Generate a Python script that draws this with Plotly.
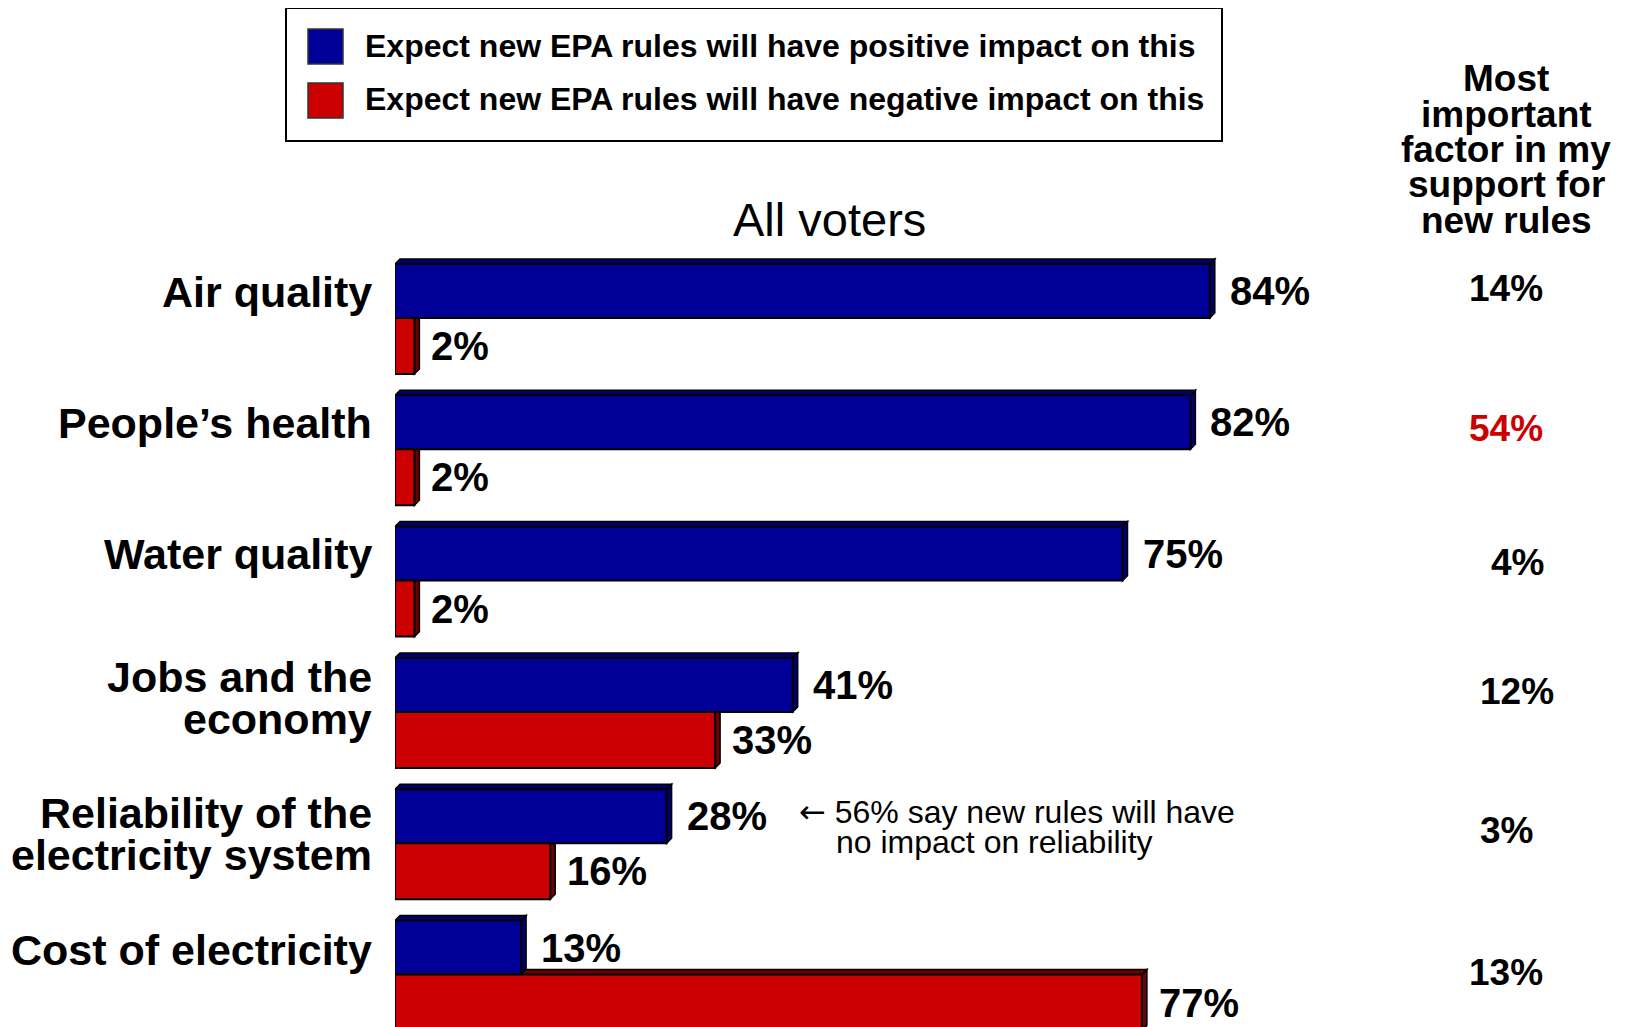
import plotly.graph_objects as go

# ---------------- data ----------------
categories = ["Air quality", "People’s health", "Water quality",
              "Jobs and the<br>economy", "Reliability of the<br>electricity system",
              "Cost of electricity"]
positive = [84, 82, 75, 41, 28, 13]
negative = [2, 2, 2, 33, 16, 77]
most_important = [14, 54, 4, 12, 3, 13]
legend_labels = ["Expect new EPA rules will have positive impact on this",
                 "Expect new EPA rules will have negative impact on this"]
panel_title = "All voters"
right_header = ["Most", "important", "factor in my", "support for", "new rules"]
note_lines = ["56% say new rules will have", "no impact on reliability"]

# ---------------- layout constants (page pixels) ----------------
PAGE_W, PAGE_H = 1631, 1027
OFF = 8                      # default body margin of the html page
W, H = PAGE_W - OFF, PAGE_H - OFF
ML, MT = 395 - OFF, 251 - OFF
PW, PH = W - ML, H - MT
PX_PER_PCT = 9.7
GROUP_PX = 131.3
Y0_PX = 318 - OFF            # group center of first category (figure px)
xmax = PW / PX_PER_PCT
y_range = [(H - Y0_PX) / GROUP_PX, (MT - Y0_PX) / GROUP_PX]

BLUE, RED = "#000099", "#CC0000"
BLUE_DARK, RED_DARK = "#00006A", "#6E0000"
FONT = "Liberation Sans, Arial, Helvetica, sans-serif"

blue_w = 54 / GROUP_PX
red_w = 56 / GROUP_PX
dx = 5 / PX_PER_PCT
dy = 5 / GROUP_PX

def px_x(px):   # page px -> paper
    return (px - OFF - ML) / PW

def px_y(py):
    return (H - (py - OFF)) / PH

ypos = list(range(len(categories)))

fig = go.Figure()
fig.add_trace(go.Bar(
    y=ypos, x=positive, orientation="h", width=blue_w, offset=-blue_w,
    marker=dict(color=BLUE, line=dict(color="black", width=2)),
    hoverinfo="skip", showlegend=False))
fig.add_trace(go.Bar(
    y=ypos, x=negative, orientation="h", width=red_w, offset=0,
    marker=dict(color=RED, line=dict(color="black", width=2)),
    hoverinfo="skip", showlegend=False))

shapes = []
def poly(pts, color):
    path = "M " + " L ".join(f"{x},{y}" for x, y in pts) + " Z"
    return dict(type="path", path=path, xref="x", yref="y", layer="below",
                fillcolor=color, line=dict(color="black", width=1.5))

# red 3D faces first (below), then blue
for i, v in enumerate(negative):
    t, b = i, i + red_w
    shapes.append(poly([(0, t), (v, t), (v + dx, t - dy), (dx, t - dy)], RED_DARK))
    shapes.append(poly([(v, t), (v, b), (v + dx, b - dy), (v + dx, t - dy)], RED_DARK))
for i, v in enumerate(positive):
    t, b = i - blue_w, i
    shapes.append(poly([(0, t), (v, t), (v + dx, t - dy), (dx, t - dy)], BLUE_DARK))
    shapes.append(poly([(v, t), (v, b), (v + dx, b - dy), (v + dx, t - dy)], BLUE_DARK))

# legend box
shapes.append(dict(type="rect", xref="paper", yref="paper",
                   x0=px_x(286), x1=px_x(1222), y0=px_y(141), y1=px_y(8),
                   line=dict(color="black", width=2), fillcolor="white"))
legend_sq_y = [(29, 64), (83, 118)]
for (ya, yb), c in zip(legend_sq_y, [BLUE, RED]):
    shapes.append(dict(type="rect", xref="paper", yref="paper",
                       x0=px_x(308), x1=px_x(343), y0=px_y(yb), y1=px_y(ya),
                       line=dict(color="#333333", width=1.5), fillcolor=c))

annotations = []
def ann(text, x, y, size, xanchor="left", bold=True, color="black", xref="paper", yref="paper", xshift=0):
    annotations.append(dict(
        text=f"<b>{text}</b>" if bold else text, x=x, y=y, xref=xref, yref=yref,
        xanchor=xanchor, yanchor="middle", showarrow=False, xshift=xshift,
        font=dict(family=FONT, size=size, color=color)))

# legend text
for lab, yc in zip(legend_labels, [46, 99]):
    ann(lab, px_x(363), px_y(yc), 32)

# panel title
ann(panel_title, px_x(829), px_y(220), 47, xanchor="center", bold=False)

# right header
for k, line in enumerate(right_header):
    ann(line, px_x(1506), px_y(79 + 35.3 * k), 37, xanchor="center")

# category labels (per line)
label_first_px = [292, 423, 554, 677, 813, 950]
label_spacing_px = [0, 0, 0, 42, 42, 0]
for i, cat in enumerate(categories):
    for j, line in enumerate(cat.split("<br>")):
        ann(line, px_x(374), px_y(label_first_px[i] + j * label_spacing_px[i]), 43, xanchor="right")

# value labels
for i, v in enumerate(positive):
    ann(f"{v}%", v, i - blue_w / 2, 40, xref="x", yref="y", xshift=18)
for i, v in enumerate(negative):
    ann(f"{v}%", v, i + red_w / 2, 40, xref="x", yref="y", xshift=15)

# most important column
imp_x_px = [1506, 1506, 1517, 1517, 1506, 1506]
imp_y_px = [288, 428, 562, 691, 830, 972]
for i, v in enumerate(most_important):
    ann(f"{v}%", px_x(imp_x_px[i]), px_y(imp_y_px[i]), 37, xanchor="center",
        color=RED if v == max(most_important) else "black")

# note
ann('<span style="font-family:DejaVu Sans">←</span> ' + note_lines[0],
    px_x(797), px_y(812), 32, bold=False)
ann(note_lines[1], px_x(834), px_y(842), 32, bold=False)

fig.update_layout(
    width=W, height=H,
    margin=dict(l=ML, r=0, t=MT, b=0, pad=0),
    paper_bgcolor="white", plot_bgcolor="white",
    barmode="overlay",
    xaxis=dict(range=[0, xmax], visible=False, fixedrange=True),
    yaxis=dict(range=y_range, visible=False, fixedrange=True),
    shapes=shapes, annotations=annotations,
    showlegend=False,
)

fig.write_html("out.html")
